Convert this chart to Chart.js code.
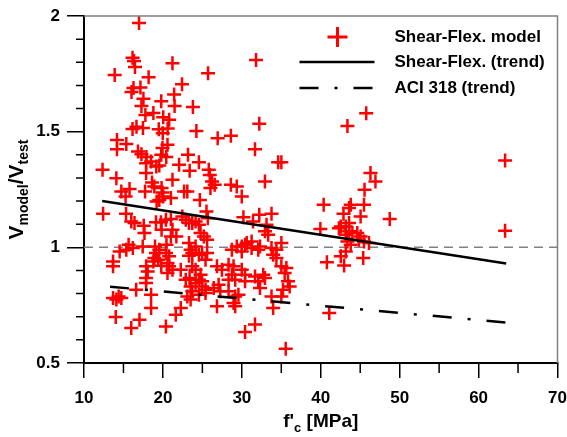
<!DOCTYPE html>
<html>
<head>
<meta charset="utf-8">
<script src="https://cdn.jsdelivr.net/npm/chart.js@4.4.1/dist/chart.umd.min.js"></script>
<style>
  html, body { margin: 0; padding: 0; background: #fff; }
  #wrap { width: 567px; height: 437px; }
</style>
</head>
<body>
<div id="wrap"><canvas id="myChart" width="567" height="437"></canvas></div>
<script>
// f'c [MPa] of each test, and Vmodel/Vtest (same order)
const fcValues = [
  16.97, 16.15, 16.34, 16.46, 21.21, 13.89, 18.19, 25.72, 31.80, 22.42,
  16.27, 17.15, 16.02, 21.42, 17.53, 17.28, 19.79, 21.48, 23.80, 17.78,
  18.79, 20.04, 20.79, 16.65, 17.47, 16.15, 19.47, 19.98, 20.60, 24.24,
  26.94, 28.61, 32.21, 45.76, 43.38, 14.18, 14.18, 15.36, 16.84, 17.28,
  17.91, 19.95, 20.58, 19.79, 20.42, 17.87, 18.50, 17.87, 19.16, 19.54,
  23.18, 24.56, 22.05, 23.39, 25.81, 25.94, 26.23, 26.56, 28.61, 29.36,
  29.99, 31.67, 34.60, 35.01, 32.93, 12.35, 14.10, 14.73, 15.27, 15.77,
  18.62, 18.91, 19.83, 19.95, 21.21, 21.01, 22.68, 23.09, 24.68, 19.20,
  19.54, 12.42, 15.33, 25.52, 30.20, 32.21, 33.76, 15.99, 16.40, 17.57,
  17.66, 19.12, 19.75, 20.38, 21.01, 21.21, 21.01, 22.46, 22.89, 23.30,
  23.72, 24.14, 24.56, 25.69, 24.77, 25.19, 25.60, 23.30, 23.51, 24.14,
  23.72, 23.30, 24.56, 24.97, 25.60, 25.40, 32.93, 29.36, 29.99, 30.62,
  31.24, 32.08, 35.01, 33.97, 14.52, 15.36, 16.19, 17.44, 19.12, 19.54,
  18.91, 20.38, 20.79, 13.68, 13.68, 17.87, 18.07, 17.87, 17.87, 20.58,
  20.79, 21.21, 20.58, 22.26, 23.72, 24.14, 24.56, 24.97, 24.14, 24.77,
  22.89, 23.51, 23.72, 23.09, 23.51, 24.97, 25.40, 24.56, 25.40, 26.85,
  27.48, 28.32, 28.95, 28.74, 28.32, 29.16, 29.99, 30.41, 30.41, 31.67,
  32.71, 32.08, 32.30, 32.93, 33.76, 35.01, 35.43, 35.85, 35.64, 35.22,
  35.01, 36.06, 27.06, 27.27, 28.32, 29.16, 28.95, 29.57, 26.85, 13.68,
  14.10, 14.73, 16.61, 18.50, 18.50, 14.02, 15.99, 17.03, 20.38, 21.63,
  22.26, 30.41, 31.67, 35.56, 33.97, 19.79, 17.74, 20.04, 19.83, 21.70,
  26.02, 31.42, 33.13, 33.34, 30.41, 32.30, 19.00, 20.45, 15.65, 28.74,
  29.99, 31.24, 33.76, 34.38, 34.38, 29.16, 26.44, 18.79, 19.41, 23.38,
  14.39, 40.37, 42.88, 43.80, 45.48, 45.05, 48.74, 39.95, 42.54, 43.17,
  43.59, 43.17, 44.01, 44.63, 45.05, 43.38, 43.80, 44.84, 45.48, 46.11,
  43.17, 42.54, 40.78, 42.96, 45.38, 63.36, 63.36, 41.08, 46.30, 46.93,
  45.55, 43.59, 42.30, 43.59
];
const ratioValues = [
  1.970, 1.820, 1.806, 1.780, 1.796, 1.745, 1.735, 1.753, 1.810, 1.705,
  1.689, 1.691, 1.672, 1.661, 1.642, 1.611, 1.631, 1.611, 1.607, 1.572,
  1.581, 1.562, 1.551, 1.521, 1.516, 1.512, 1.510, 1.493, 1.514, 1.503,
  1.472, 1.482, 1.534, 1.580, 1.525, 1.464, 1.424, 1.447, 1.414, 1.402,
  1.391, 1.429, 1.443, 1.400, 1.391, 1.364, 1.371, 1.321, 1.349, 1.354,
  1.400, 1.368, 1.357, 1.331, 1.335, 1.313, 1.285, 1.270, 1.270, 1.263,
  1.220, 1.424, 1.368, 1.368, 1.285, 1.335, 1.299, 1.241, 1.220, 1.252,
  1.280, 1.263, 1.256, 1.237, 1.292, 1.213, 1.241, 1.241, 1.205, 1.198,
  1.205, 1.145, 1.145, 1.155, 1.130, 1.141, 1.145, 1.112, 1.105, 1.093,
  1.062, 1.108, 1.108, 1.119, 1.122, 1.076, 1.047, 1.133, 1.119, 1.105,
  1.105, 1.112, 1.098, 1.126, 1.062, 1.047, 1.033, 1.019, 0.990, 1.004,
  0.975, 0.964, 0.968, 0.975, 0.975, 0.946, 1.069, 1.004, 1.004, 1.019,
  1.025, 0.990, 1.019, 0.968, 0.982, 0.990, 0.997, 1.004, 0.975, 0.990,
  0.954, 0.975, 0.961, 0.939, 0.918, 0.918, 0.896, 0.867, 0.846, 0.932,
  0.918, 0.903, 0.889, 0.903, 0.918, 0.903, 0.860, 0.831, 0.846, 0.882,
  0.860, 0.831, 0.810, 0.788, 0.774, 0.853, 0.817, 0.795, 0.803, 0.918,
  0.903, 0.925, 0.918, 0.882, 0.860, 0.860, 0.903, 0.882, 0.853, 0.874,
  0.882, 0.853, 0.824, 0.867, 0.788, 0.918, 0.889, 0.853, 0.911, 0.817,
  0.788, 0.831, 0.838, 0.810, 0.810, 0.788, 0.759, 0.795, 0.745, 0.781,
  0.774, 0.781, 0.817, 0.795, 0.738, 0.699, 0.651, 0.687, 0.658, 0.709,
  0.738, 0.634, 0.666, 0.562, 0.738, 0.920, 1.241, 1.220, 1.076, 1.047,
  1.256, 1.112, 1.098, 1.054, 1.011, 1.004, 1.004, 1.011, 1.011, 0.990,
  0.982, 0.997, 0.997, 0.990, 0.954, 0.745, 0.824, 0.939, 0.946, 0.867,
  0.788, 1.184, 1.145, 1.184, 1.184, 1.133, 1.123, 1.079, 1.090, 1.090,
  1.069, 1.054, 1.062, 1.062, 1.047, 1.025, 1.011, 1.033, 1.025, 1.019,
  0.982, 0.961, 0.935, 0.922, 0.954, 1.072, 1.375, 0.716, 1.321, 1.285,
  1.249, 1.105, 1.083, 1.170
];

const trendFc = [12.3, 63.5];
const shearFlexTrend = [1.20, 0.93];
const aciFc = [13.3, 63.5];
const aciTrend = [0.83, 0.675];
const refFc = [10, 70];
const refRatio = [1, 1];

const xTicks = [10, 20, 30, 40, 50, 60, 70];
const yTicks = [0.5, 1, 1.5, 2];
const xMinor = [15, 25, 35, 45, 55, 65];
const yMinor = [0.6, 0.7, 0.8, 0.9, 1.1, 1.2, 1.3, 1.4, 1.6, 1.7, 1.8, 1.9];
const legendLabels = ['Shear-Flex. model', 'Shear-Flex. (trend)', 'ACI 318 (trend)'];

const FONT = "'Liberation Sans', Arial, Helvetica, sans-serif";
const dashDot = [19, 16, 3, 16];

function pairs(xs, ys) {
    return xs.map((x, i) => ({ x: x, y: ys[i] }));
}

// draws frame, minor ticks, axis titles with subscripts and the legend
const decorations = {
    id: 'decorations',
    afterDraw(chart) {
        const ctx = chart.ctx;
        const a = chart.chartArea;
        const xs = chart.scales.x;
        const ys = chart.scales.y;

        ctx.save();
        // top and right frame
        ctx.strokeStyle = '#808080';
        ctx.lineWidth = 1.5;
        ctx.beginPath();
        ctx.moveTo(a.left, a.top);
        ctx.lineTo(a.right, a.top);
        ctx.lineTo(a.right, a.bottom);
        ctx.stroke();

        // minor ticks
        ctx.strokeStyle = '#000';
        ctx.lineWidth = 1.5;
        ctx.beginPath();
        xMinor.forEach(v => {
            const px = xs.getPixelForValue(v);
            ctx.moveTo(px, a.bottom);
            ctx.lineTo(px, a.bottom + 10);
        });
        yMinor.forEach(v => {
            const py = ys.getPixelForValue(v);
            ctx.moveTo(a.left, py);
            ctx.lineTo(a.left - 8, py);
        });
        ctx.stroke();

        // y title: V_model / V_test
        ctx.fillStyle = '#000';
        ctx.textBaseline = 'alphabetic';
        ctx.textAlign = 'left';
        const big = 'bold 21px ' + FONT;
        const small = 'bold 14px ' + FONT;
        const ySegs = [['V', big, 0], ['model', small, 5], ['/', big, 0], ['V', big, 0], ['test', small, 5]];
        let total = 0;
        ySegs.forEach(s => { ctx.font = s[1]; total += ctx.measureText(s[0]).width; });
        ctx.translate(23, (a.top + a.bottom) / 2);
        ctx.rotate(-Math.PI / 2);
        let cx = -total / 2;
        ySegs.forEach(s => {
            ctx.font = s[1];
            ctx.fillText(s[0], cx, s[2]);
            cx += ctx.measureText(s[0]).width;
        });
        ctx.setTransform(1, 0, 0, 1, 0, 0);

        // x title: f'c [MPa]
        const xb = 'bold 19px ' + FONT;
        const xsml = 'bold 13px ' + FONT;
        const xSegs = [["f'", xb, 0], ['c', xsml, 5], [' [MPa]', xb, 0]];
        total = 0;
        xSegs.forEach(s => { ctx.font = s[1]; total += ctx.measureText(s[0]).width; });
        cx = (a.left + a.right) / 2 - total / 2;
        xSegs.forEach(s => {
            ctx.font = s[1];
            ctx.fillText(s[0], cx, 427 + s[2]);
            cx += ctx.measureText(s[0]).width;
        });

        // legend
        const rows = [a.top + 21, a.top + 46, a.top + 72];
        ctx.strokeStyle = '#ff0000';
        ctx.lineWidth = 3;
        ctx.beginPath();
        ctx.moveTo(a.right - 230, rows[0]);
        ctx.lineTo(a.right - 210, rows[0]);
        ctx.moveTo(a.right - 220, rows[0] - 10);
        ctx.lineTo(a.right - 220, rows[0] + 10);
        ctx.stroke();

        ctx.strokeStyle = '#000';
        ctx.lineWidth = 2.5;
        ctx.beginPath();
        ctx.moveTo(a.right - 258, rows[1]);
        ctx.lineTo(a.right - 183, rows[1]);
        ctx.stroke();

        ctx.setLineDash(dashDot);
        ctx.beginPath();
        ctx.moveTo(a.right - 258, rows[2]);
        ctx.lineTo(a.right - 183, rows[2]);
        ctx.stroke();
        ctx.setLineDash([]);

        ctx.font = 'bold 17px ' + FONT;
        ctx.textBaseline = 'middle';
        legendLabels.forEach((t, i) => ctx.fillText(t, a.right - 163, rows[i]));
        ctx.restore();
    }
};

const ctx = document.getElementById('myChart').getContext('2d');
new Chart(ctx, {
    type: 'scatter',
    data: {
        datasets: [{
            label: legendLabels[0],
            data: pairs(fcValues, ratioValues),
            pointStyle: 'cross',
            pointRadius: 7,
            pointBorderWidth: 2.5,
            borderColor: '#ff0000',
            backgroundColor: '#ff0000',
            order: 2
        }, {
            type: 'line',
            label: 'ref',
            data: pairs(refFc, refRatio),
            borderColor: '#808080',
            borderWidth: 1.5,
            borderDash: [9, 6],
            pointRadius: 0,
            order: 3
        }, {
            type: 'line',
            label: legendLabels[1],
            data: pairs(trendFc, shearFlexTrend),
            borderColor: '#000',
            borderWidth: 2.5,
            pointRadius: 0,
            order: 0
        }, {
            type: 'line',
            label: legendLabels[2],
            data: pairs(aciFc, aciTrend),
            borderColor: '#000',
            borderWidth: 2.5,
            borderDash: dashDot,
            pointRadius: 0,
            order: 1
        }]
    },
    options: {
        responsive: false,
        animation: false,
        layout: { padding: { top: 16, right: 5, bottom: 0, left: 0 } },
        plugins: { legend: { display: false }, tooltip: { enabled: false } },
        scales: {
            x: {
                type: 'linear',
                min: 10,
                max: 70,
                afterBuildTicks: s => { s.ticks = xTicks.map(v => ({ value: v })); },
                afterFit: s => { s.height = 74; s.paddingLeft = 0; s.paddingRight = 0; },
                ticks: {
                    font: { family: FONT, size: 17, weight: 'bold' },
                    color: '#000',
                    padding: 10,
                    maxRotation: 0,
                    autoSkip: false
                },
                grid: { display: true, drawOnChartArea: false, drawTicks: true, tickLength: 15, color: '#000', lineWidth: 1.5 },
                border: { display: true, color: '#000', width: 2 }
            },
            y: {
                type: 'linear',
                min: 0.5,
                max: 2,
                afterBuildTicks: s => { s.ticks = yTicks.map(v => ({ value: v })); },
                afterFit: s => { s.width = 84; s.paddingTop = 0; s.paddingBottom = 0; },
                ticks: {
                    font: { family: FONT, size: 17, weight: 'bold' },
                    color: '#000',
                    padding: 7,
                    callback: v => String(v)
                },
                grid: { display: true, drawOnChartArea: false, drawTicks: true, tickLength: 17, color: '#000', lineWidth: 1.5 },
                border: { display: true, color: '#000', width: 2 }
            }
        }
    },
    plugins: [decorations]
});
</script>
</body>
</html>
